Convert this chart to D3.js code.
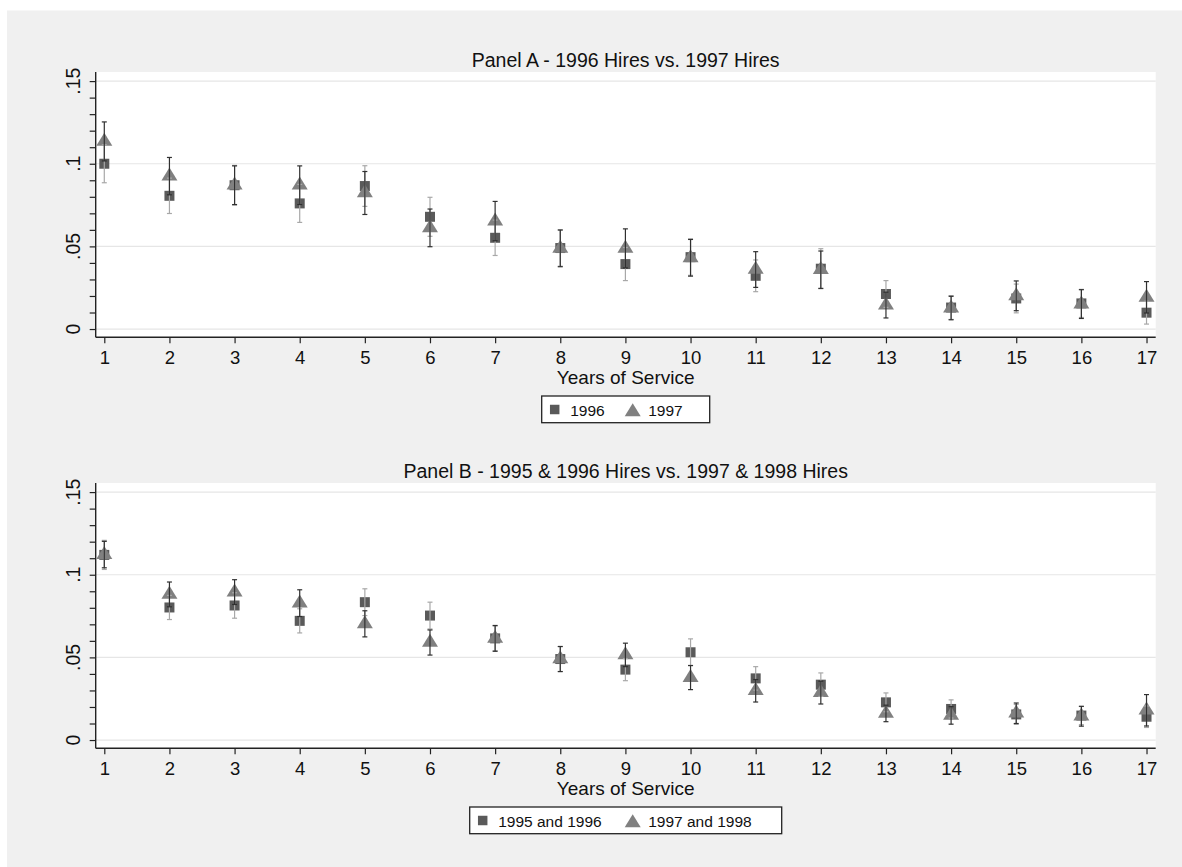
<!DOCTYPE html>
<html lang="en">

<head>
    <meta charset="UTF-8">
    <title>Years of Service</title>
    <script src="https://d3js.org/d3.v7.min.js"></script>
    <style>
        body {
            margin: 0;
            background: #fff;
        }

        svg {
            display: block;
            font-family: "Liberation Sans", Arial, sans-serif;
        }
    </style>
</head>

<body>
    <svg id="chart" width="1182" height="867"></svg>

    <script>
        // years of service on the x axis
        var years = [1, 2, 3, 4, 5, 6, 7, 8, 9, 10, 11, 12, 13, 14, 15, 16, 17];
        var yTicks = [0, 0.05, 0.1, 0.15];
        var yTickLabels = ['0', '.05', '.1', '.15'];

        // Panel A
        var a96 = [0.100, 0.0806, 0.087, 0.076, 0.0865, 0.0679, 0.0552, 0.049, 0.0393, 0.0435, 0.0322, 0.0365, 0.0212, 0.013, 0.0185, 0.0155, 0.0099];
        var a96ci = [0.0115, 0.0107, 0.012, 0.0115, 0.0123, 0.0118, 0.0107, 0.011, 0.010, 0.011, 0.0096, 0.0121, 0.0081, 0.0072, 0.0087, 0.0085, 0.0069];
        var a97 = [0.1135, 0.0925, 0.087, 0.087, 0.0823, 0.0612, 0.0653, 0.0488, 0.0488, 0.0431, 0.036, 0.0359, 0.0145, 0.0127, 0.0201, 0.0151, 0.0192];
        var a97ci = [0.0118, 0.0113, 0.0117, 0.0117, 0.013, 0.0114, 0.0119, 0.0111, 0.0118, 0.0111, 0.0108, 0.0113, 0.0078, 0.0071, 0.009, 0.0087, 0.0095];

        // Panel B
        var b9596 = [0.112, 0.0802, 0.0814, 0.0721, 0.0834, 0.0753, 0.0615, 0.049, 0.0426, 0.0531, 0.0373, 0.0335, 0.0228, 0.0188, 0.0155, 0.0148, 0.0141];
        var b9596ci = [0.0088, 0.0073, 0.0077, 0.0073, 0.0081, 0.0081, 0.0075, 0.0075, 0.0067, 0.0081, 0.0071, 0.0071, 0.0057, 0.0055, 0.006, 0.0055, 0.0065];
        var b9798 = [0.1122, 0.0881, 0.0895, 0.0828, 0.0703, 0.059, 0.0615, 0.049, 0.0515, 0.0378, 0.0298, 0.0287, 0.0161, 0.0149, 0.0162, 0.0144, 0.018];
        var b9798ci = [0.008, 0.0075, 0.0075, 0.0081, 0.0079, 0.0076, 0.0078, 0.0076, 0.0071, 0.0073, 0.0068, 0.0069, 0.005, 0.0053, 0.0062, 0.006, 0.0095];

        var panels = [
            { title: 'Panel A - 1996 Hires vs. 1997 Hires', top: 72, sq: a96, sqci: a96ci, tri: a97, trici: a97ci, names: ['1996', '1997'], legendW: 168 },
            { title: 'Panel B - 1995 & 1996 Hires vs. 1997 & 1998 Hires', top: 483, sq: b9596, sqci: b9596ci, tri: b9798, trici: b9798ci, names: ['1995 and 1996', '1997 and 1998'], legendW: 312 }
        ];

        var left = 95.7, right = 1155.7, plotH = 265.3;
        var sqColor = '#5a5a5a', triColor = '#808080';
        var lightCi = '#a8a8a8', darkCi = '#303030';

        var svg = d3.select('#chart');

        svg.append('rect')
            .attr('x', 7).attr('y', 10.5)
            .attr('width', 1182 - 7).attr('height', 867 - 10.5)
            .attr('fill', '#f0f0f0');

        // wider-than-equilateral triangle, centred on its centroid
        var triangle = {
            draw: function (ctx, size) {
                var w = 16, h = 13;
                ctx.moveTo(0, -2 * h / 3);
                ctx.lineTo(w / 2, h / 3);
                ctx.lineTo(-w / 2, h / 3);
                ctx.closePath();
            }
        };

        var x = d3.scaleLinear().domain([0.868, 17.141]).range([left, right]);

        panels.forEach(function (p) {
            var bottom = p.top + plotH;
            var y = d3.scaleLinear().domain([-0.005, 0.1555]).range([bottom, p.top]);
            var g = svg.append('g');

            g.append('rect')
                .attr('x', left).attr('y', p.top)
                .attr('width', right - left).attr('height', plotH)
                .attr('fill', '#fff');

            // grid
            g.selectAll('line.grid')
                .data(yTicks)
                .join('line')
                .attr('class', 'grid')
                .attr('x1', left).attr('x2', right)
                .attr('y1', function (d) { return y(d); })
                .attr('y2', function (d) { return y(d); })
                .attr('stroke', '#e6e6e6')
                .attr('stroke-width', 1.2);

            // y axis with minor ticks
            var yAxis = d3.axisLeft(y)
                .tickValues(d3.range(0, 0.1501, 0.01))
                .tickSize(6)
                .tickFormat('');
            var ya = g.append('g')
                .attr('transform', 'translate(' + left + ',0)')
                .call(yAxis);
            ya.select('.domain').attr('d', 'M0,' + p.top + 'V' + bottom);

            g.selectAll('text.ylab')
                .data(yTicks)
                .join('text')
                .attr('class', 'ylab')
                .attr('transform', function (d) { return 'translate(80,' + y(d) + ') rotate(-90)'; })
                .attr('text-anchor', 'middle')
                .attr('font-size', 19.5)
                .attr('fill', '#111')
                .text(function (d, i) { return yTickLabels[i]; });

            // x axis
            var xa = g.append('g')
                .attr('transform', 'translate(0,' + bottom + ')')
                .call(d3.axisBottom(x).tickValues(years).tickSize(6).tickPadding(8).tickFormat(d3.format('d')));
            xa.select('.domain').attr('d', 'M' + left + ',0H' + right);
            xa.selectAll('text').attr('font-size', 18.5).attr('fill', '#111')
                .attr('font-family', '"Liberation Sans", Arial, sans-serif');

            [ya, xa].forEach(function (a) {
                a.selectAll('line').attr('stroke', '#222').attr('stroke-width', 1.2);
                a.select('.domain').attr('stroke', '#222').attr('stroke-width', 1.4);
            });

            g.append('text')
                .attr('x', (left + right) / 2).attr('y', p.top - 4.7)
                .attr('text-anchor', 'middle')
                .attr('font-size', 19.5)
                .attr('fill', '#111')
                .text(p.title);

            g.append('text')
                .attr('x', (left + right) / 2).attr('y', bottom + 47)
                .attr('text-anchor', 'middle')
                .attr('font-size', 19)
                .attr('fill', '#111')
                .text('Years of Service');

            // markers
            g.selectAll('path.sq')
                .data(years)
                .join('path')
                .attr('class', 'sq')
                .attr('transform', function (d, i) { return 'translate(' + x(d) + ',' + y(p.sq[i]) + ')'; })
                .attr('d', d3.symbol(d3.symbolSquare, 100))
                .attr('fill', sqColor);

            g.selectAll('path.tri')
                .data(years)
                .join('path')
                .attr('class', 'tri')
                .attr('transform', function (d, i) { return 'translate(' + x(d) + ',' + y(p.tri[i]) + ')'; })
                .attr('d', d3.symbol(triangle))
                .attr('fill', triColor);

            // confidence intervals with caps
            function rcap(vals, ci, color, cls) {
                var c = g.selectAll('g.' + cls)
                    .data(years)
                    .join('g')
                    .attr('class', cls)
                    .attr('stroke', color)
                    .attr('stroke-width', 1.2);
                c.append('line')
                    .attr('x1', function (d) { return x(d); })
                    .attr('x2', function (d) { return x(d); })
                    .attr('y1', function (d, i) { return y(vals[i] - ci[i]); })
                    .attr('y2', function (d, i) { return y(vals[i] + ci[i]); });
                [-1, 1].forEach(function (s) {
                    c.append('line')
                        .attr('x1', function (d) { return x(d) - 2.5; })
                        .attr('x2', function (d) { return x(d) + 2.5; })
                        .attr('y1', function (d, i) { return y(vals[i] + s * ci[i]); })
                        .attr('y2', function (d, i) { return y(vals[i] + s * ci[i]); });
                });
            }
            rcap(p.sq, p.sqci, lightCi, 'ci1');
            rcap(p.tri, p.trici, darkCi, 'ci2');

            // legend
            var lx = (left + right) / 2 - p.legendW / 2, ly = bottom + 58.7;
            var lg = g.append('g').attr('transform', 'translate(' + lx + ',' + ly + ')');
            lg.append('rect')
                .attr('width', p.legendW).attr('height', 26.7)
                .attr('fill', '#fff').attr('stroke', '#222').attr('stroke-width', 1.3);
            var firstW = p.names[0].length > 4 ? 150 : 78;
            lg.append('path')
                .attr('transform', 'translate(13,13.5)')
                .attr('d', d3.symbol(d3.symbolSquare, 90))
                .attr('fill', sqColor);
            lg.append('text')
                .attr('x', 28.5).attr('y', 19.5)
                .attr('font-size', 15.5).attr('fill', '#111')
                .text(p.names[0]);
            lg.append('path')
                .attr('transform', 'translate(' + (firstW + 13) + ',16)')
                .attr('d', d3.symbol(triangle))
                .attr('fill', triColor);
            lg.append('text')
                .attr('x', firstW + 28.5).attr('y', 19.5)
                .attr('font-size', 15.5).attr('fill', '#111')
                .text(p.names[1]);
        });
    </script>
</body>

</html>
